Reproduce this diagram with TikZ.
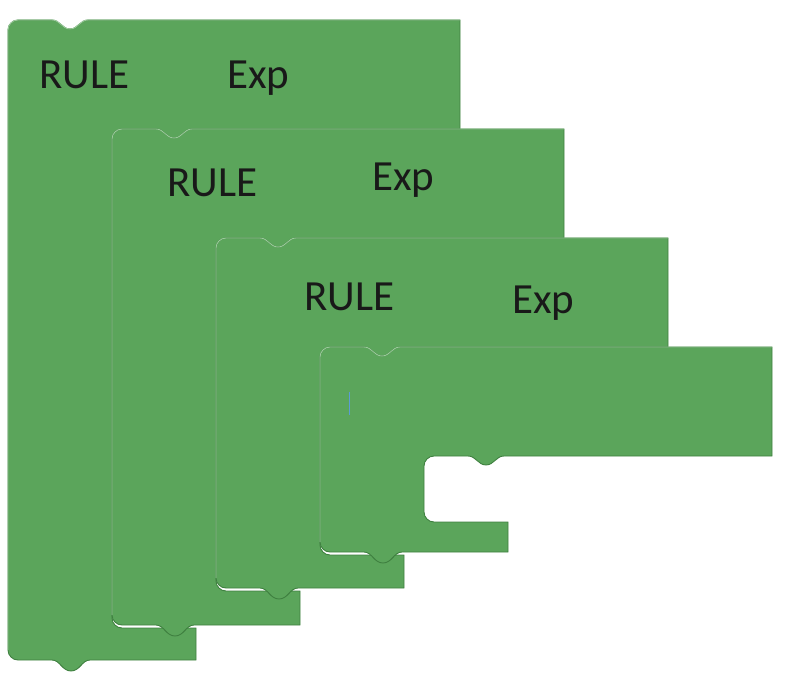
\documentclass[tikz,border=0pt]{standalone}
\usepackage{fontspec}
\newfontfamily\blockfont{Carlito}
\usetikzlibrary{positioning}
\definecolor{blockgreen}{HTML}{5BA55B}
\definecolor{blockdark}{HTML}{3F8040}
\definecolor{blockhigh}{HTML}{9CCB9C}
\definecolor{cursorblue}{HTML}{5B9BD5}
\tikzset{
  x=1pt, y=-1pt,
  blockbody/.style={fill=blockgreen, draw=blockdark, line width=0.9pt},
  blockedgelight/.style={draw=blockhigh, line width=0.9pt},
  blocktext/.style={font=\blockfont\fontsize{43}{50}\selectfont, text=black!90, anchor=base west, inner sep=0pt},
}
\newcommand{\blockedge}[1]{(0,#1-10) -- (0,10) .. controls (0,4.5) and (4.5,0) .. (10,0) -- (44,0) .. controls (52,0) and (54,9) .. (62,9) .. controls (70,9) and (72,0) .. (80,0) -- (452,0)}
\newcommand{\blockrest}[2]{-- (452,109) -- (184,109) .. controls (176,109) and (174,118) .. (166,118) .. controls (158,118) and (156,109) .. (148,109) -- (114,109) .. controls (108.5,109) and (104,113.5) .. (104,119) -- (104,#1-10) .. controls (104,#1-4.5) and (108.5,#1) .. (114,#1) -- (188,#1) -- (188,#2) -- (82,#2) .. controls (74,#2) and (72,#2+11) .. (63,#2+11) .. controls (54,#2+11) and (52,#2) .. (44,#2) -- (10,#2) .. controls (4.5,#2) and (0,#2-4.5) .. (0,#2-10)}
\begin{document}
\begin{tikzpicture}
  \useasboundingbox (0,0) rectangle (787,695);
  \begin{scope}[shift={(8,20)}]
    \filldraw[blockbody] \blockedge{640} \blockrest{608}{640} -- cycle;
    \draw[blockedgelight] \blockedge{640};
  \end{scope}
  \begin{scope}[shift={(112,129)}]
    \filldraw[blockbody] \blockedge{496} \blockrest{462}{496} -- cycle;
    \draw[blockedgelight] \blockedge{496};
  \end{scope}
  \begin{scope}[shift={(216,238)}]
    \filldraw[blockbody] \blockedge{350} \blockrest{317}{350} -- cycle;
    \draw[blockedgelight] \blockedge{350};
  \end{scope}
  \begin{scope}[shift={(320,347)}]
    \filldraw[blockbody] \blockedge{205} \blockrest{175}{205} -- cycle;
    \draw[blockedgelight] \blockedge{205};
  \end{scope}
  \node[blocktext] (rule1) at (39,89) {RULE};
  \node[blocktext] (exp1) at (227,89) {Exp};
  \node[blocktext] (rule2) at (167,197) {RULE};
  \node[blocktext] (exp2) at (372,191) {Exp};
  \node[blocktext] (rule3) at (304,310) {RULE};
  \node[blocktext] (exp3) at (512,313) {Exp};
  \draw[cursorblue, line width=0.8pt] (349,392) -- (349,415);
\end{tikzpicture}
\end{document}
